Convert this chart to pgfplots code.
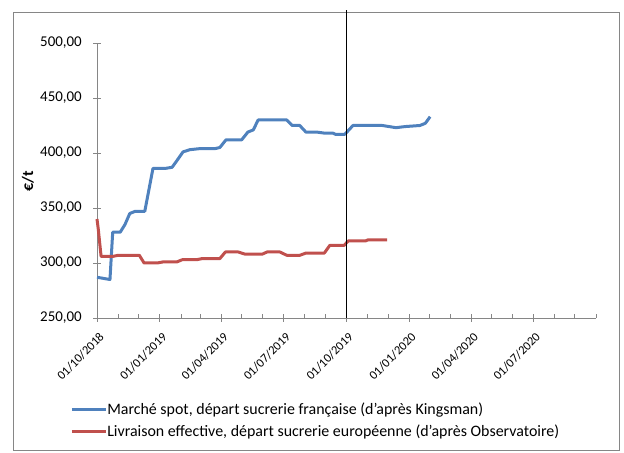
\documentclass[border=0pt]{standalone}
\usepackage{pgfplots}
\pgfplotsset{compat=1.18}
\usepackage{fontspec}
\setmainfont{Carlito}
\definecolor{exblue}{RGB}{79,129,189}
\definecolor{exred}{RGB}{192,80,77}
\definecolor{axgray}{RGB}{134,134,134}
\begin{document}
\begin{tikzpicture}[x=1bp,y=1bp]
\path[use as bounding box] (0,0) rectangle (624,453);
\draw[axgray, line width=0.8bp] (13,3) rectangle (619,441);
\begin{axis}[
  at={(97bp,135bp)}, anchor=south west,
  scale only axis, width=499bp, height=275bp,
  xmin=0, xmax=731, ymin=250, ymax=500,
  clip=false,
  axis lines=left, axis line style={axgray, line width=0.8bp, -},
  ytick={250,300,...,500},
  xtick={0,92,182,273,365,457,548,639},
  xticklabels={01/10/2018,01/01/2019,01/04/2019,01/07/2019,01/10/2019,01/01/2020,01/04/2020,01/07/2020},
  extra x ticks={31,61,123,151,212,243,304,334,396,427,487,517,578,609,670,700,731},
  extra x tick labels={},
  extra x tick style={tick align=inside, major tick length=4bp},
  tick align=center, major tick length=8bp,
  tick style={axgray, line width=0.8bp},
  yticklabel style={font=\fontsize{15}{17}\selectfont, inner sep=0pt, xshift=-11bp},
  xticklabel style={font=\fontsize{12.5}{14}\selectfont, rotate=45, anchor=east, inner sep=0pt, xshift=-5.7bp, yshift=-12.7bp},
  /pgf/number format/.cd, fixed, fixed zerofill, precision=2, use comma, 1000 sep={}, assume math mode=true,
  /pgfplots/.cd,
  ylabel={\textbf{€/t}}, ylabel style={font=\fontsize{16}{18}\selectfont, inner sep=0pt, at={(axis description cs:-0.126,0.498)}, anchor=south},
  legend style={draw=none, fill=none, at={(-0.054,-0.308)}, anchor=north west, inner sep=0pt, row sep=9bp, font=\fontsize{16}{18}\selectfont, cells={anchor=west}, nodes={inner sep=0pt}},
  legend image code/.code={\draw[#1, line width=3bp] (0bp,0bp) -- (34bp,0bp);},
  legend cell align=left,
]
\addplot[exblue, line width=3bp, line join=round] coordinates {
(0,287) (19,285) (23,328) (34,328) (41,335) (48,345) (56,347) (70,347)
(82,386) (100,386) (110,387) (117,393) (126,401) (136,403) (151,404)
(173,404) (180,405) (189,412) (212,412) (221,419) (229,421) (236,430)
(278,430) (286,425) (297,425) (306,419) (322,419) (334,418) (346,418)
(349,417) (363,417) (375,425) (418,425) (438,423) (451,424) (473,425)
(481,427) (488,433)
};
\addlegendentry{Marché spot, départ sucrerie française (d'après Kingsman)}
\addplot[exred, line width=3bp, line join=round] coordinates {
(0,340) (2,330) (6,306) (23,306) (31,307) (62,307) (69,300) (88,300)
(97,301) (117,301) (125,303) (146,303) (154,304) (180,304) (188,310)
(207,310) (217,308) (242,308) (249,310) (268,310) (278,307) (297,307)
(306,309) (333,309) (341,316) (362,316) (368,320) (393,320) (397,321)
(425,321)
};
\addlegendentry{Livraison effective, départ sucrerie européenne (d'après Observatoire)}
\addplot[black, line width=1bp, forget plot] coordinates {(365,250) (365,530)};
\end{axis}
\end{tikzpicture}
\end{document}
